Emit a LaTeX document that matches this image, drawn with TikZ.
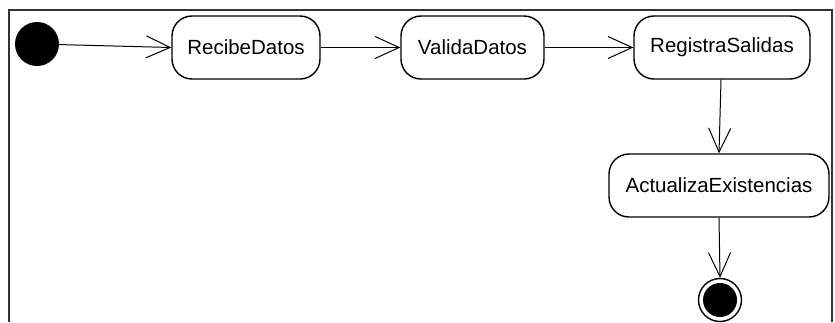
\documentclass[tikz,border=0pt]{standalone}
\usepackage{fontspec}
\setmainfont{Liberation Sans}
\usetikzlibrary{arrows.meta}
\tikzset{
  act/.style={draw=black, line width=1.4pt, rounded corners=20pt, minimum height=63pt, inner sep=0pt, font=\fontsize{20.5}{24}\selectfont, fill=white},
  flow/.style={draw=black, line width=1pt, -{Straight Barb[length=24pt, width=22pt, line width=1pt]}},
  frame/.style={draw=black!80, line width=2pt}
}
\begin{document}
\begin{tikzpicture}[x=1pt, y=-1pt]
\useasboundingbox (0,0) rectangle (835,322);
\fill[white] (0,0) rectangle (835,322);
\draw[frame] (9,322) -- (9,10) -- (832,10) -- (832,322);
\node[circle, fill=black, minimum size=44pt, inner sep=0pt] (init) at (37,44) {};
\node[act, minimum width=148pt] (recibe) at (246,47.5) {RecibeDatos};
\node[act, minimum width=143pt] (valida) at (472.5,47.5) {ValidaDatos};
\node[act, minimum width=176pt] (registra) at (722,47.5) {RegistraSalidas};
\node[act, minimum width=220pt] (actualiza) at (719,185.5) {ActualizaExistencias};
\node[circle, draw=black, line width=1.4pt, fill=white, minimum size=43pt, inner sep=0pt] (final) at (720,300) {};
\node[circle, fill=black, minimum size=34pt, inner sep=0pt] (finalin) at (final.center) {};
\draw[flow] (init) -- (recibe.west);
\draw[flow] (recibe.east) -- (valida.west);
\draw[flow] (valida.east) -- (registra.west);
\draw[flow] (registra.south) ++(-1,0) coordinate (rs) (rs) -- (actualiza.north);
\draw[flow] (actualiza.south) -- (final.north);
\end{tikzpicture}
\end{document}
